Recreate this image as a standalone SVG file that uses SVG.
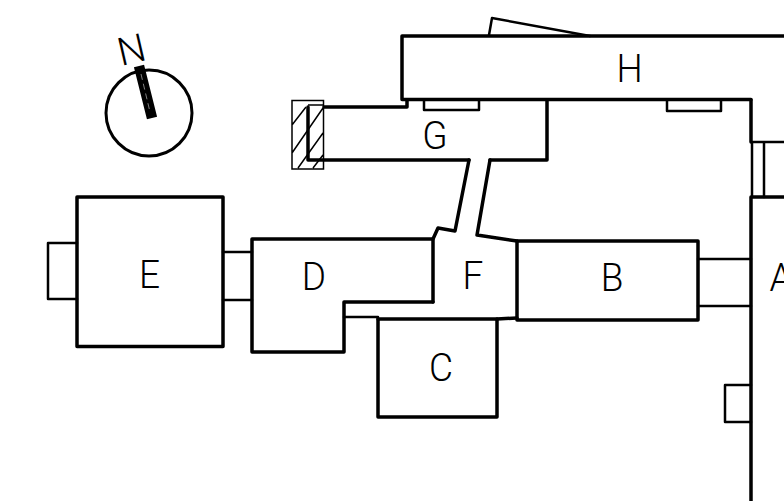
<svg xmlns="http://www.w3.org/2000/svg" width="784" height="501" viewBox="0 0 784 501">
<style>
.w{fill:none;stroke:#000;stroke-width:3.5;stroke-linejoin:round;stroke-linecap:round}
.t{fill:none;stroke:#000;stroke-width:2.5;stroke-linejoin:round;stroke-linecap:round}
.h{fill:none;stroke:#000;stroke-width:1.5}
text{font-family:Roboto,"Liberation Sans",sans-serif;font-weight:300;font-size:39px;fill:#000;text-anchor:middle}
</style>
<rect width="784" height="501" fill="#fff"/>
<g id="north">
<circle cx="149" cy="113" r="43" fill="none" stroke="#000" stroke-width="3"/>
<path d="M139 66L152 118" fill="none" stroke="#000" stroke-width="10.500"/>
<path d="M141 74L150 112" fill="none" stroke="#fff" stroke-width="0.5" stroke-dasharray="6 4"/>
<text transform="translate(134.500 63) rotate(-13) scale(1 1)">N</text>
</g>
<g id="E"><rect class="w" x="77" y="197" width="146" height="149.500"/><path class="t" d="M77 243H48V299H77"/><text transform="translate(149.500 288) scale(.95 1)">E</text></g>
<g id="D"><path class="w" d="M433 239H252V352H344V302H433"/><text transform="translate(314 290) scale(.95 1)">D</text></g>
<g id="C"><path class="w" d="M378 319V417H497V319"/><text transform="translate(441 381) scale(.95 1)">C</text></g>
<g id="F"><path class="w" d="M433 239L438 228L455 231L469 160M490 160L477 235L517 241M378 319H497L517 318M433 239V302"/><path class="t" d="M344 317H378"/><text transform="translate(473 289) scale(.95 1)">F</text></g>
<g id="B"><path class="w" d="M517 241H698V320H517Z"/><text transform="translate(612 291) scale(.95 1)">B</text></g>
<g id="A"><path class="w" d="M751 100V142M751 197V501M751 197H784"/><path class="t" d="M751 385H725V422H751"/><text transform="translate(781 291) scale(.95 1)">A</text></g>
<g id="G"><path class="w" d="M407 100V107H324M308 107V160H469M490 160H547V100"/><path class="t" d="M424 100V110H479V100"/><path class="h" d="M292 100.500H323.500V169H292ZM308 105H323.500M292 125L306 107M292 153L323 108M298 168L323 133M313 168L323 155"/><text transform="translate(435 149) scale(.95 1)">G</text></g>
<g id="H"><path class="w" d="M784 36H402V99.500H751"/><path class="t" d="M489 35L492 18L590 36M667 100V111H721V100"/><text transform="translate(629.500 82) scale(.95 1)">H</text></g>
<g id="connectors"><path class="t" d="M223 252H252M223 300H252M698 259H751M698 306H751M752 142H784M764 142V197M752 142V197"/></g>
</svg>
